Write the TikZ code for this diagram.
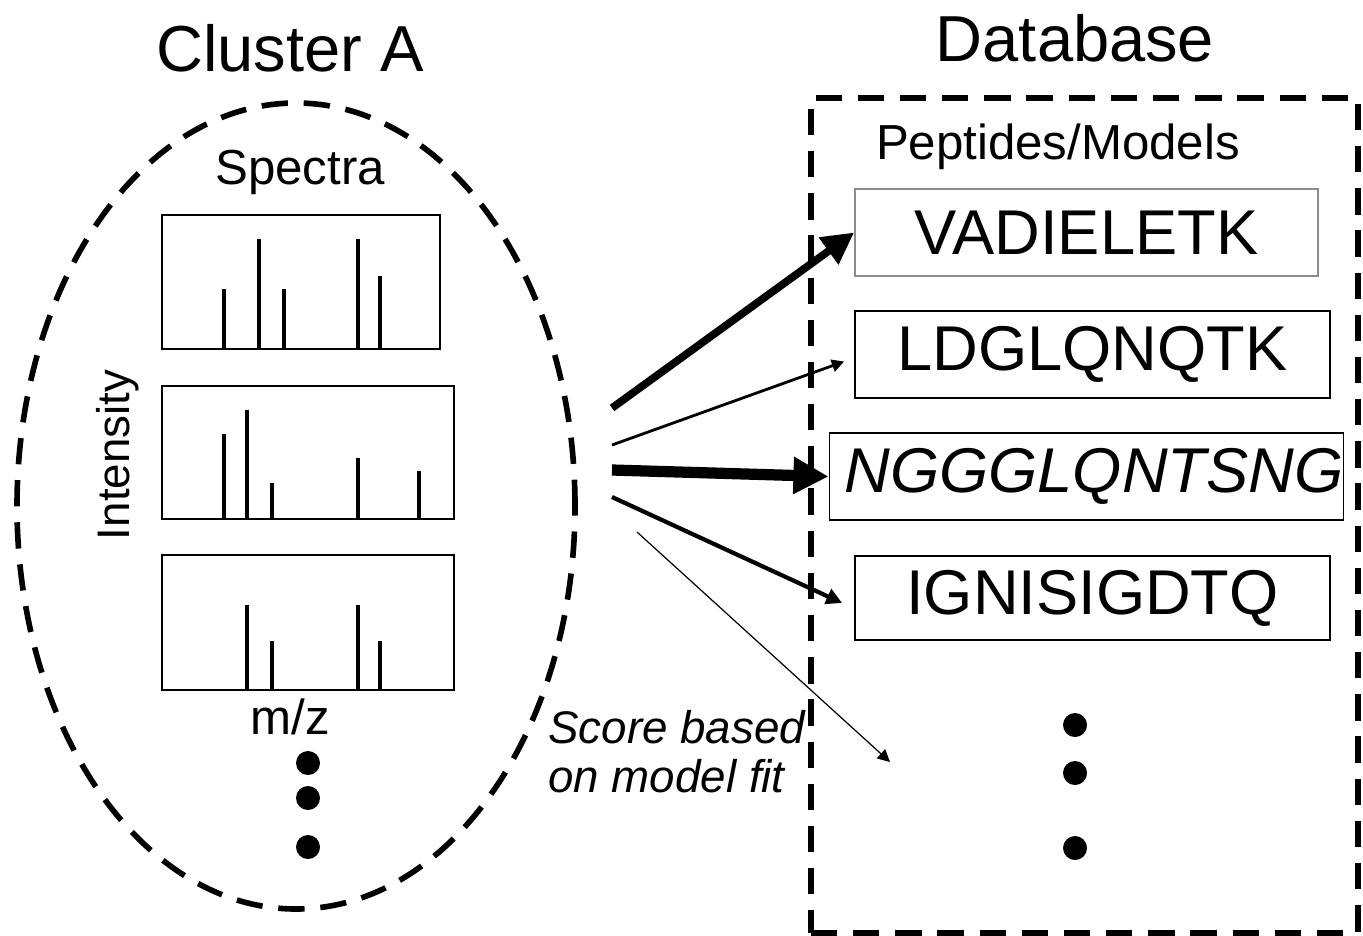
\documentclass[tikz,border=0pt]{standalone}
\usepackage{fontspec}
\setmainfont{Liberation Sans}
\usetikzlibrary{arrows.meta, positioning, shapes.geometric}
\definecolor{boxGray}{HTML}{8C8C8C}

\begin{document}
\begin{tikzpicture}[
    title/.style={font=\fontsize{18.5}{20}\selectfont},
    caption/.style={font=\fontsize{14}{16}\selectfont},
    region/.style={draw, dash pattern=on 7.5pt off 4.5pt, line width=1.6pt, inner sep=0pt},
    specbox/.style={draw, line width=0.6pt, inner sep=0pt},
    peak/.style={line width=1pt},
    pepbox/.style={draw, line width=0.5pt, minimum height=0.87cm, inner sep=0pt, font=\fontsize{18}{20}\selectfont},
    dot/.style={circle, fill, inner sep=0pt, minimum size=0.24cm},
    arrow/.style={-{Triangle[length=#1, width=#1]}},
]
    \useasboundingbox (0,0) rectangle (13.63,-9.35);

    % cluster side
    \node[title] (clusterA) at (2.90,-0.48) {Cluster A};
    \node[region, ellipse, minimum width=5.58cm, minimum height=8.06cm] (cluster) at (2.96,-5.06) {};
    \node[caption] (spectra) at (3.00,-1.72) {Spectra};

    \node[specbox, minimum width=2.78cm, minimum height=1.34cm] (spec1) at (3.01,-2.82) {};
    \node[specbox, minimum width=2.92cm, minimum height=1.33cm] (spec2) at (3.08,-4.525) {};
    \node[specbox, minimum width=2.92cm, minimum height=1.35cm] (spec3) at (3.08,-6.225) {};

    \foreach \x/\t in {2.24/2.89, 2.59/2.39, 2.84/2.89, 3.58/2.39, 3.80/2.76}
        \draw[peak] (\x,-3.49) -- (\x,-\t);
    \foreach \x/\t in {2.24/4.34, 2.47/4.10, 2.72/4.83, 3.58/4.58, 4.19/4.71}
        \draw[peak] (\x,-5.19) -- (\x,-\t);
    \foreach \x/\t in {2.47/6.05, 2.72/6.41, 3.58/6.05, 3.80/6.41}
        \draw[peak] (\x,-6.90) -- (\x,-\t);

    \node[caption, font=\fontsize{13}{15}\selectfont, rotate=90] (intensity) at (1.18,-4.55) {Intensity};
    \node[caption] (mz) at (2.90,-7.17) {m/z};

    \node[dot] (cdot1) at (3.08,-7.63) {};
    \node[dot] (cdot2) at (3.08,-7.98) {};
    \node[dot] (cdot3) at (3.08,-8.47) {};

    % database side
    \node[title] (dbtitle) at (10.75,-0.38) {Database};
    \node[region, minimum width=5.47cm, minimum height=8.35cm, anchor=north west] (db) at (8.08,-0.95) {};
    \node[caption] (peptides) at (10.58,-1.47) {Peptides/Models};

    \node[pepbox, draw=boxGray, minimum width=4.63cm] (pep1) at (10.865,-2.325) {VADIELETK};
    \node[pepbox, minimum width=4.75cm] (pep2) at (10.925,-3.545) {LDGLQNQTK};
    \node[pepbox, minimum width=5.13cm, font=\itshape\fontsize{18}{20}\selectfont] (pep3) at (10.865,-4.765) {\hspace{0.15cm}NGGGLQNTSNG};
    \node[pepbox, minimum width=4.75cm, minimum height=0.84cm] (pep4) at (10.925,-5.98) {IGNISIGDTQ};

    \node[dot] (ddot1) at (10.75,-7.25) {};
    \node[dot] (ddot2) at (10.75,-7.73) {};
    \node[dot] (ddot3) at (10.75,-8.48) {};

    % scores
    \coordinate (src1) at (6.12,-4.08);
    \coordinate (src2) at (6.12,-4.45);
    \coordinate (src3) at (6.12,-4.70);
    \coordinate (src4) at (6.12,-4.97);
    \coordinate (src5) at (6.37,-5.32);
    \coordinate (more) at (8.90,-7.62);

    \draw[arrow=9pt, line width=2.2pt] (src1) -- (pep1.west);
    \draw[arrow=3.5pt, line width=0.8pt] (src2) -- ([xshift=-0.1cm, yshift=-0.07cm]pep2.west);
    \draw[arrow=10pt, line width=3.2pt] (src3) -- (pep3.west);
    \draw[arrow=4.5pt, line width=1.2pt] (src4) -- ([xshift=-0.12cm, yshift=-0.05cm]pep4.west);
    \draw[arrow=3.5pt, line width=0.35pt] (src5) -- (more);

    \node[font=\itshape\fontsize{13}{14}\selectfont, align=left, anchor=west] (score) at (5.36,-7.52) {Score based\\on model fit};
\end{tikzpicture}
\end{document}
